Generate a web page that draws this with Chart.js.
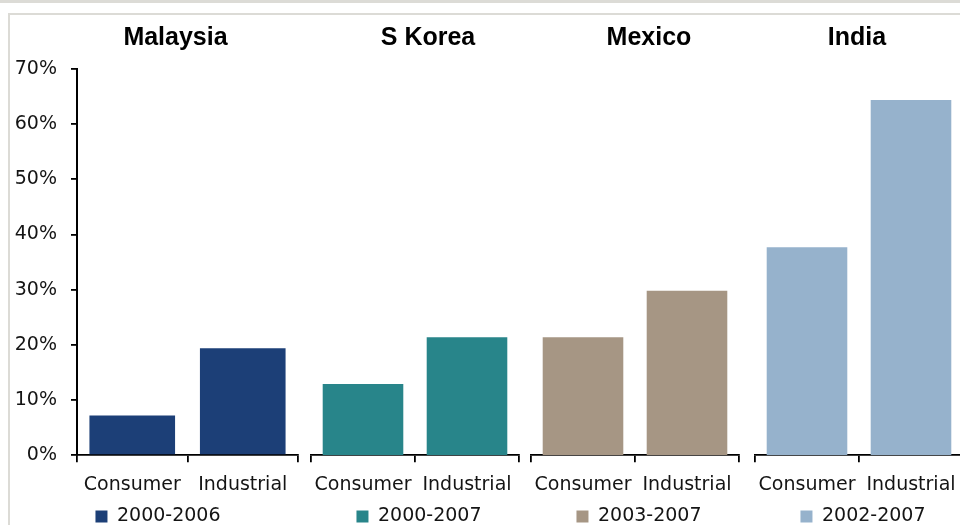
<!DOCTYPE html>
<html>
<head>
<meta charset="utf-8">
<script src="https://cdn.jsdelivr.net/npm/chart.js@4.4.1/dist/chart.umd.min.js"></script>
<style>
  html, body { margin: 0; padding: 0; width: 960px; height: 525px; overflow: hidden; background: #fff; }
  #band { position: absolute; left: 0; top: 0; width: 960px; height: 3px; background: #dcdbd6; }
  #frame { position: absolute; left: 8px; top: 13px; width: 980px; height: 540px; border-top: 2px solid #dcdbd6; border-left: 2px solid #dcdbd6; }
  .panel { position: absolute; top: 14px; height: 522px; }
</style>
</head>
<body>
<div id="band"></div>
<div id="frame"></div>
<div class="panel" style="left:10px;width:302px"><canvas id="c0"></canvas></div>
<div class="panel" style="left:301px;width:232px"><canvas id="c1"></canvas></div>
<div class="panel" style="left:521px;width:232px"><canvas id="c2"></canvas></div>
<div class="panel" style="left:745px;width:232px"><canvas id="c3"></canvas></div>
<script>
const countries = ['Malaysia', 'S Korea', 'Mexico', 'India'];
const periods = ['2000-2006', '2000-2007', '2003-2007', '2002-2007'];
const sectors = ['Consumer', 'Industrial'];
const consumerGrowth = [7.2, 12.9, 21.4, 37.7];
const industrialGrowth = [19.4, 21.4, 29.8, 64.4];
const yMax = 70;
const yStep = 10;

const colours = ['#1c3f77', '#28858a', '#a69684', '#96b2cc'];
// side padding of each panel, and how far its heading sits off centre
const sidePad = [[0, 6], [10, 6], [10, 6], [10, 6]];
const titleShift = [-12, 13, 14, -2];

const tickFont = { family: 'DejaVu Sans', size: 19 };
const inkColour = '#141414';

// bold country name above each panel
const panelTitle = {
  id: 'panelTitle',
  afterDraw(chart, args, opts) {
    const { ctx, chartArea } = chart;
    ctx.save();
    ctx.font = 'bold 25px "Liberation Sans", Arial, sans-serif';
    ctx.fillStyle = '#000';
    ctx.textAlign = 'center';
    ctx.textBaseline = 'middle';
    ctx.fillText(opts.text, (chartArea.left + chartArea.right) / 2 + opts.shift, opts.y);
    ctx.restore();
  }
};

function buildPanel(i) {
  const first = i === 0;
  return new Chart(document.getElementById('c' + i), {
    type: 'bar',
    data: {
      labels: sectors,
      datasets: [{
        label: periods[i],
        data: [consumerGrowth[i], industrialGrowth[i]],
        backgroundColor: colours[i],
        borderWidth: 0,
        categoryPercentage: 1,
        barPercentage: 0.775
      }]
    },
    options: {
      responsive: true,
      maintainAspectRatio: false,
      animation: false,
      layout: { padding: { top: 55, left: sidePad[i][0], right: sidePad[i][1], bottom: 0 } },
      scales: {
        x: {
          afterFit: (scale) => { scale.height -= 4; },
          grid: { offset: true, drawOnChartArea: false, drawTicks: true, tickLength: 7, color: '#000', lineWidth: 1.8 },
          border: { display: true, color: '#000', width: 1.8 },
          ticks: { color: inkColour, font: tickFont, padding: 11, maxRotation: 0, autoSkip: false }
        },
        // only the first panel shows the percentage axis
        y: {
          display: first,
          min: 0,
          max: yMax,
          afterFit: (scale) => { scale.width = first ? 67 : 0; },
          grid: { drawOnChartArea: false, drawTicks: true, tickLength: 6, color: '#000', lineWidth: 1.8 },
          border: { display: true, color: '#000', width: 2 },
          ticks: { stepSize: yStep, color: inkColour, font: tickFont, padding: 14, callback: (v) => v + '%' }
        },
        // empty strip on the right that nudges the legend over
        spacer: {
          type: 'linear',
          position: 'right',
          min: 0,
          max: yMax,
          afterFit: (scale) => { scale.width = 8; },
          grid: { display: false },
          border: { display: false },
          ticks: { display: false }
        }
      },
      plugins: {
        tooltip: { enabled: false },
        panelTitle: { text: countries[i], shift: titleShift[i], y: 24 },
        legend: {
          position: 'bottom',
          labels: { boxWidth: 12, boxHeight: 12, color: inkColour, font: tickFont, padding: 4 }
        }
      }
    },
    plugins: [panelTitle]
  });
}

countries.forEach((c, i) => buildPanel(i));
</script>
</body>
</html>
